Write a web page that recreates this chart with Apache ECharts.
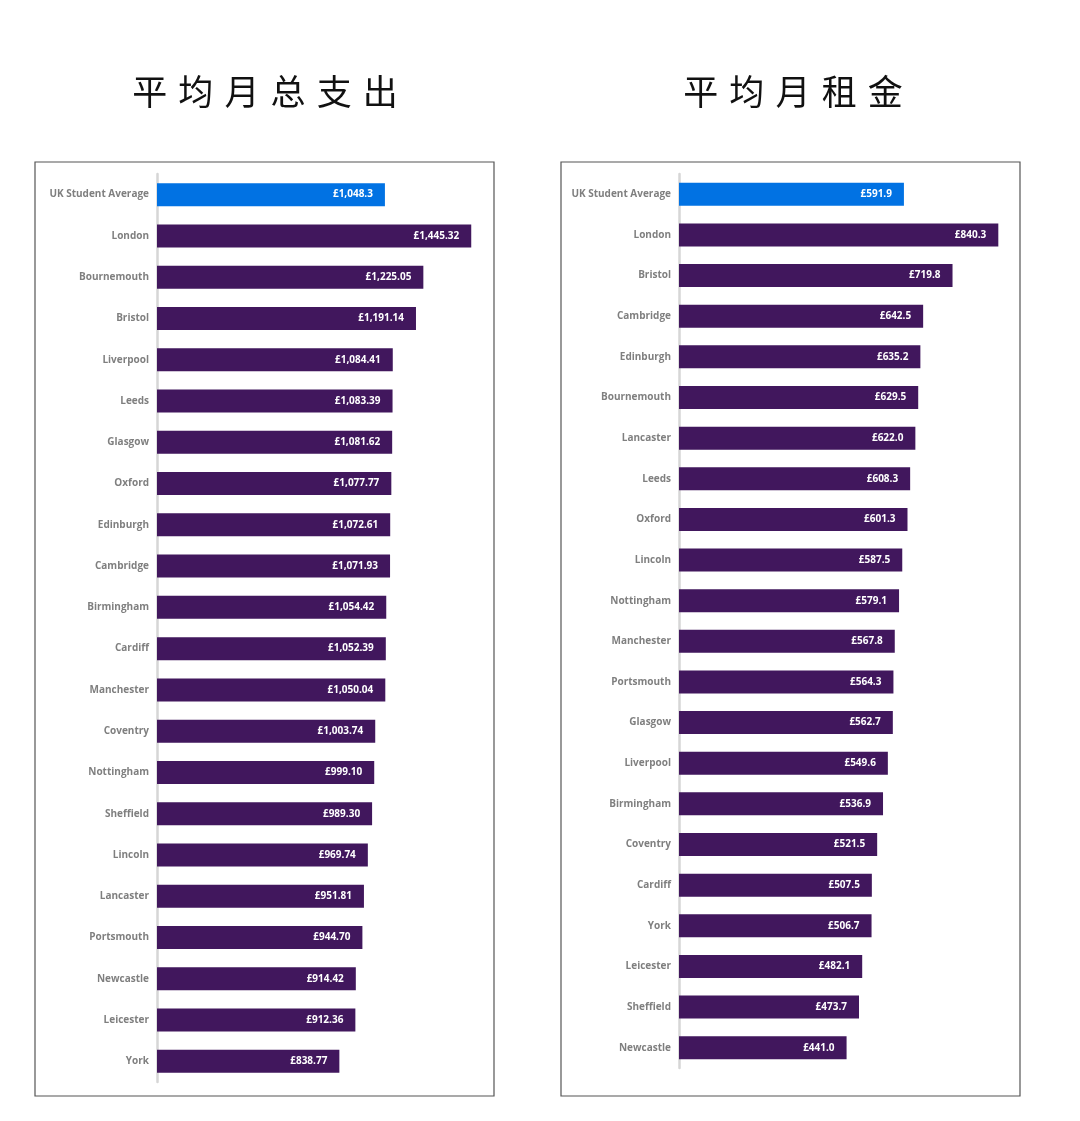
<!DOCTYPE html>
<html>
<head>
<meta charset="utf-8">
<title>平均月总支出 / 平均月租金</title>
<script src="https://cdn.jsdelivr.net/npm/echarts@6/dist/echarts.min.js"></script>
<style>
  html, body { margin: 0; padding: 0; background: #fff; }
  #chart { width: 1080px; height: 1121px; }
</style>
</head>
<body>
<div id="chart"></div>
<script>
// 平均月总支出
var spendCities = ['UK Student Average', 'London', 'Bournemouth', 'Bristol', 'Liverpool', 'Leeds',
    'Glasgow', 'Oxford', 'Edinburgh', 'Cambridge', 'Birmingham', 'Cardiff', 'Manchester',
    'Coventry', 'Nottingham', 'Sheffield', 'Lincoln', 'Lancaster', 'Portsmouth', 'Newcastle',
    'Leicester', 'York'];
var spendValues = [1048.3, 1445.32, 1225.05, 1191.14, 1084.41, 1083.39, 1081.62, 1077.77, 1072.61,
    1071.93, 1054.42, 1052.39, 1050.04, 1003.74, 999.10, 989.30, 969.74, 951.81, 944.70, 914.42,
    912.36, 838.77];

// 平均月租金
var rentCities = ['UK Student Average', 'London', 'Bristol', 'Cambridge', 'Edinburgh', 'Bournemouth',
    'Lancaster', 'Leeds', 'Oxford', 'Lincoln', 'Nottingham', 'Manchester', 'Portsmouth', 'Glasgow',
    'Liverpool', 'Birmingham', 'Coventry', 'Cardiff', 'York', 'Leicester', 'Sheffield', 'Newcastle'];
var rentValues = [591.9, 840.3, 719.8, 642.5, 635.2, 629.5, 622.0, 608.3, 601.3, 587.5, 579.1,
    567.8, 564.3, 562.7, 549.6, 536.9, 521.5, 507.5, 506.7, 482.1, 473.7, 441.0];

var PURPLE = '#41175d';
var BLUE = '#0172e3';

function pounds(v, digits) {
    var s = v.toFixed(digits).split('.');
    s[0] = s[0].replace(/\B(?=(\d{3})+(?!\d))/g, ',');
    return '£' + s.join('.');
}

function barData(values) {
    return values.map(function (v, i) {
        return { value: v, itemStyle: { color: i === 0 ? BLUE : PURPLE } };
    });
}

var myChart = echarts.init(document.getElementById('chart'));

var catAxis = function (idx, cats) {
    return {
        type: 'category',
        gridIndex: idx,
        data: cats,
        inverse: true,
        axisTick: { show: false },
        axisLine: { show: true, lineStyle: { color: '#d6d6d6', width: 2.5 } },
        axisLabel: {
            margin: 8,
            color: '#7f7f7f',
            fontFamily: 'Open Sans',
            fontWeight: 'bold',
            fontSize: 10
        }
    };
};

var valAxis = function (idx, max) {
    return {
        type: 'value',
        gridIndex: idx,
        min: 0,
        max: max,
        show: false
    };
};

var barSeries = function (idx, values, digits) {
    return {
        type: 'bar',
        xAxisIndex: idx,
        yAxisIndex: idx,
        data: barData(values),
        barWidth: 23,
        animation: false,
        label: {
            show: true,
            position: 'insideRight',
            distance: 12,
            color: '#fff',
            fontFamily: 'Open Sans',
            fontWeight: 700,
            fontSize: 10,
            formatter: function (p) {
                return pounds(p.value, digits === 2 && p.dataIndex === 0 ? 1 : digits);
            }
        }
    };
};

var titleStyle = {
    fontFamily: 'DejaVu Sans, Noto Sans CJK SC',
    fontSize: 35,
    fontWeight: 'normal',
    color: '#111'
};

var option = {
    backgroundColor: '#fff',
    title: [
        { text: '平 均 月 总 支 出', left: 265, top: 78, padding: 0, textAlign: 'center', textStyle: titleStyle },
        { text: '平 均 月 租 金', left: 793, top: 78, padding: 0, textAlign: 'center', textStyle: titleStyle }
    ],
    graphic: [
        { type: 'rect', shape: { x: 35, y: 162, width: 459, height: 934 },
          style: { fill: 'none', stroke: '#555', lineWidth: 1.2 }, silent: true },
        { type: 'rect', shape: { x: 561, y: 162, width: 459, height: 934 },
          style: { fill: 'none', stroke: '#555', lineWidth: 1.2 }, silent: true }
    ],
    grid: [
        { left: 157, top: 174, width: 337, height: 908 },
        { left: 679, top: 174, width: 342, height: 894 }
    ],
    xAxis: [valAxis(0, 1550), valAxis(1, 900)],
    yAxis: [catAxis(0, spendCities), catAxis(1, rentCities)],
    series: [barSeries(0, spendValues, 2), barSeries(1, rentValues, 1)]
};

if (option && typeof option === 'object') {
    myChart.setOption(option, true);
}
</script>
</body>
</html>
